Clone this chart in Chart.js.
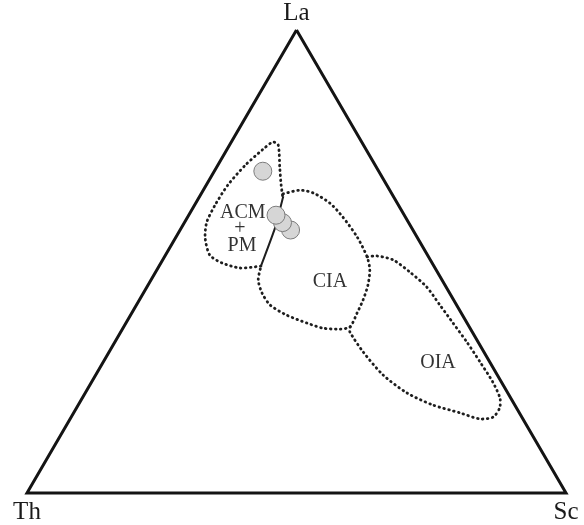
<!DOCTYPE html>
<html>
<head>
<meta charset="utf-8">
<script src="https://cdn.jsdelivr.net/npm/chart.js@4"></script>
<style>
html, body { margin: 0; padding: 0; background: #fff; }
canvas { display: block; }
</style>
</head>
<body>
<canvas id="ternary" width="584" height="525"></canvas>
<script>
// La - Th - Sc ternary, values in %
const apexNames = ["La", "Th", "Sc"]

// samples
const sampleLa = [69.5, 56.8, 58.4, 60.0]
const sampleTh = [21.5, 22.7, 23.4, 23.8]
const sampleSc = [9.0, 20.5, 18.2, 16.2]

// field outlines, each point is [La, Th, Sc]
const acmPmField = [
    [49.0, 32.1, 18.9], [48.6, 36.2, 15.2], [49.7, 39.0, 11.3], [51.4, 40.4, 8.2],
    [55.1, 39.4, 5.5], [58.5, 37.4, 4.1], [62.2, 34.0, 3.8], [66.5, 29.5, 4.0],
    [70.8, 24.1, 5.1], [74.1, 19.3, 6.6], [75.8, 16.5, 7.7], [75.2, 15.8, 9.0],
    [70.2, 18.0, 11.8], [66.5, 19.6, 13.9], [63.9, 20.6, 15.5]
]
const acmCiaDivide = [
    [64.1, 20.4, 15.5], [57.2, 25.4, 17.4], [49.0, 32.1, 18.9]
]
const ciaField = [
    [64.6, 20.2, 15.2], [65.4, 16.7, 17.9], [64.8, 14.5, 20.7], [62.6, 12.5, 24.9],
    [59.6, 11.6, 28.8], [55.3, 11.1, 33.6], [51.0, 11.4, 37.6], [48.2, 12.3, 39.5],
    [44.9, 14.3, 40.8], [41.7, 16.8, 41.5], [38.9, 19.3, 41.8], [35.9, 22.1, 42.0],
    [35.4, 24.2, 40.4], [35.6, 27.3, 37.1], [36.7, 29.7, 33.6], [38.4, 32.6, 29.0],
    [40.6, 34.6, 24.8], [43.2, 34.8, 22.0], [46.0, 34.1, 19.9], [49.0, 32.1, 18.9]
]
const oiaField = [
    [51.0, 11.4, 37.6], [51.2, 9.5, 39.3], [50.3, 6.9, 42.7], [47.7, 5.1, 47.2],
    [44.5, 3.6, 51.9], [40.6, 3.1, 56.3], [36.7, 2.6, 60.7], [32.6, 2.1, 65.3],
    [28.3, 1.8, 69.9], [24.0, 1.6, 74.4], [20.5, 2.0, 77.5], [18.4, 3.1, 78.5],
    [16.4, 5.3, 78.3], [16.0, 8.0, 76.0], [17.3, 11.0, 71.7], [19.0, 15.2, 65.8],
    [21.6, 18.7, 59.7], [25.5, 21.2, 53.3], [30.5, 22.4, 47.1], [34.8, 22.7, 42.5],
    [35.9, 22.1, 42.0]
]

const fieldNames = ["ACM", "+", "PM", "CIA", "OIA"]
const fieldLabelAt = [
    [60.5, 29.7, 9.8], [57.0, 32.0, 11.0], [53.4, 33.4, 13.2],
    [45.6, 21.0, 33.4], [28.1, 9.7, 62.2]
]

const H = Math.sqrt(3) / 2 * 100

function toXY(la, th, sc) {
    const total = la + th + sc
    return { x: (sc + la / 2) / total * 100, y: la / total * H }
}

const corners = [[100, 0, 0], [0, 100, 0], [0, 0, 100]]

const dotted = {
    showLine: true,
    pointRadius: 0,
    borderColor: "#1e1e1e",
    borderWidth: 2.8,
    borderDash: [0.6, 4.4],
    borderCapStyle: "round",
    tension: 0.25,
    clip: false,
    order: 2
}

const textPlugin = {
    id: "ternaryText",
    afterDatasetsDraw(chart) {
        const ctx = chart.ctx
        const xs = chart.scales.x
        const ys = chart.scales.y
        ctx.save()
        ctx.textAlign = "center"
        ctx.textBaseline = "middle"
        ctx.fillStyle = "#333333"
        ctx.font = "20px 'Liberation Serif'"
        fieldNames.forEach((name, i) => {
            const p = toXY(...fieldLabelAt[i])
            ctx.fillText(name, xs.getPixelForValue(p.x), ys.getPixelForValue(p.y))
        })
        ctx.fillStyle = "#1a1a1a"
        ctx.font = "25px 'Liberation Serif'"
        const offsets = [-17, 19, 19]
        apexNames.forEach((name, i) => {
            const p = toXY(...corners[i])
            ctx.fillText(name, xs.getPixelForValue(p.x), ys.getPixelForValue(p.y) + offsets[i])
        })
        ctx.restore()
    }
}

const samples = sampleLa.map((la, i) => toXY(la, sampleTh[i], sampleSc[i]))

new Chart("ternary", {
    type: "scatter",
    data: {
        datasets: [
            {
                label: "samples",
                data: samples,
                pointRadius: 9,
                pointBackgroundColor: "#d6d6d6",
                pointBorderColor: "#7c7c7c",
                pointBorderWidth: 1,
                clip: false,
                order: 0
            },
            {
                label: "frame",
                data: [...corners, corners[0]].map(c => toXY(...c)),
                showLine: true,
                pointRadius: 0,
                borderColor: "#141414",
                borderWidth: 3,
                borderJoinStyle: "miter",
                clip: false,
                order: 1
            },
            {
                label: "divide",
                data: acmCiaDivide.map(c => toXY(...c)),
                showLine: true,
                pointRadius: 0,
                borderColor: "#1e1e1e",
                borderWidth: 2,
                tension: 0.2,
                clip: false,
                order: 1
            },
            { ...dotted, label: "ACM+PM", data: acmPmField.map(c => toXY(...c)) },
            { ...dotted, label: "CIA", data: ciaField.map(c => toXY(...c)) },
            { ...dotted, label: "OIA", data: oiaField.map(c => toXY(...c)) }
        ]
    },
    options: {
        responsive: false,
        animation: false,
        layout: { padding: { left: 27, right: 18, top: 30, bottom: 32 } },
        scales: {
            x: { type: "linear", min: 0, max: 100, display: false },
            y: { type: "linear", min: 0, max: H, display: false }
        },
        plugins: {
            legend: { display: false },
            tooltip: { enabled: false }
        }
    },
    plugins: [textPlugin]
})
</script>
</body>
</html>
